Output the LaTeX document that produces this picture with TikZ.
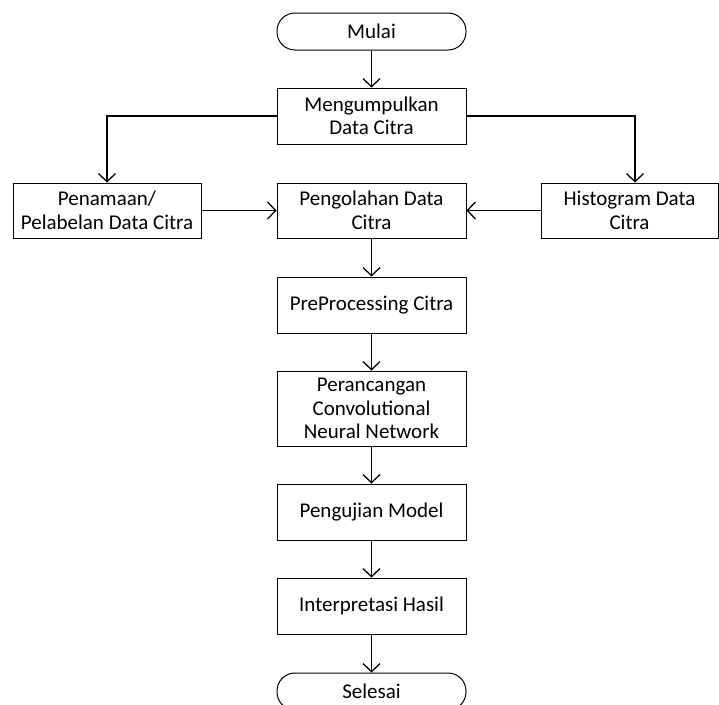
\documentclass[tikz,border=0pt]{standalone}
\usepackage{fontspec}
\setmainfont{Carlito}
\usepackage{tikz}
\usetikzlibrary{arrows.meta, positioning}

\tikzset{
  prosesbox/.style={draw, line width=1pt, minimum width=189pt, minimum height=56pt,
    align=center, inner sep=2pt, font=\fontsize{21}{23.5}\selectfont},
  terminal/.style={prosesbox, minimum height=37pt, rounded corners=18pt},
  alur/.style={line width=1.4pt, -{Straight Barb[length=8pt, width=17pt, line width=1.3pt]}}
}

\begin{document}
\begin{tikzpicture}[x=1pt, y=-1pt]
    \useasboundingbox (0,0) rectangle (719,704);
    % Start and data collection
    \node[terminal] (mulai) at (371.5,31.5) {Mulai};
    \node[prosesbox] (kumpul) at (371.5,116) {Mengumpulkan\\Data Citra};
    % Row of three boxes: y = 183 to 238
    \node[prosesbox, minimum width=188pt, minimum height=55pt] (namai) at (107,210.5)
      {Penamaan/\\Pelabelan Data Citra};
    \node[prosesbox, minimum height=55pt] (olah) at (371.5,210.5) {Pengolahan Data\\Citra};
    \node[prosesbox, minimum width=177pt, minimum height=55pt] (histo) at (629.5,210.5)
      {Histogram Data\\Citra};
    % Main column
    \node[prosesbox] (prepro) at (371.5,305) {PreProcessing Citra};
    \node[prosesbox, minimum height=75pt] (rancang) at (371.5,408.5)
      {Perancangan\\Convolutional\\Neural Network};
    \node[prosesbox] (uji) at (371.5,512) {Pengujian Model};
    \node[prosesbox] (interp) at (371.5,606) {Interpretasi Hasil};
    \node[terminal] (selesai) at (371.5,691.5) {Selesai};
    % Connectors
    \draw[alur] (mulai) -- (kumpul);
    \draw[alur] (kumpul.west) -| (namai.north);
    \draw[alur] (kumpul.east) -| ([xshift=5.5pt]histo.north);
    \draw[alur] (namai) -- (olah);
    \draw[alur] (histo) -- (olah);
    \draw[alur] (olah) -- (prepro);
    \draw[alur] (prepro) -- (rancang);
    \draw[alur] (rancang) -- (uji);
    \draw[alur] (uji) -- (interp);
    \draw[alur] (interp) -- (selesai);
  \end{tikzpicture}
\end{document}
